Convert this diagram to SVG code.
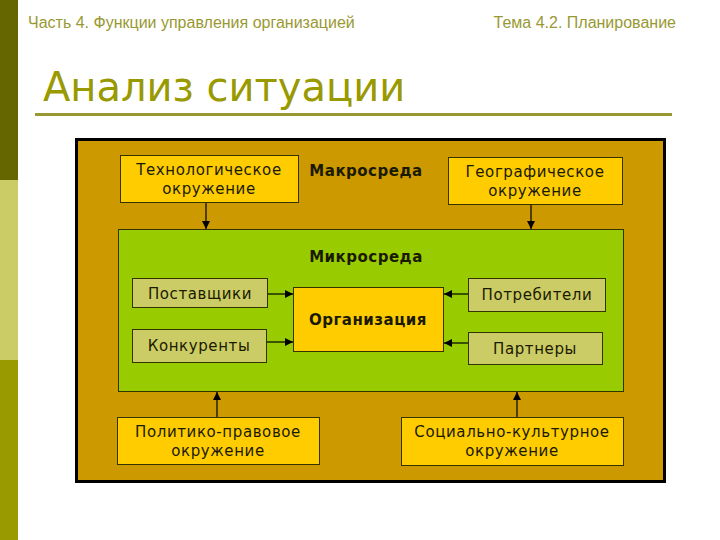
<svg xmlns="http://www.w3.org/2000/svg" width="720" height="540" viewBox="0 0 720 540">
<style>
.box{stroke:#333300;stroke-width:1}
.env{fill:#ffcc00}
.act{fill:#cccc66}
.t{font-family:"DejaVu Sans",Verdana,sans-serif;font-size:15px;fill:#1a1a00;text-anchor:middle;letter-spacing:0.6px}
.b{font-family:"DejaVu Sans",Verdana,sans-serif;font-size:15px;font-weight:bold;fill:#1a1a00;text-anchor:middle;letter-spacing:0.5px}
.hdr{font-family:"Liberation Sans",Arial,sans-serif;font-size:16px;fill:#999933}
.con{stroke:#000;stroke-width:1.2;fill:none;marker-end:url(#ah)}
</style>
<defs>
<marker id="ah" viewBox="0 0 10 10" refX="10" refY="5" markerWidth="8" markerHeight="8" markerUnits="userSpaceOnUse" orient="auto">
<path d="M0,0 L10,5 L0,10 z" fill="#000"/>
</marker>
</defs>
<rect width="720" height="540" fill="#fff"/>
<g id="sidebar">
<rect x="0" y="0" width="18" height="180" fill="#666600"/>
<rect x="0" y="180" width="18" height="180" fill="#cccc66"/>
<rect x="0" y="360" width="18" height="180" fill="#999900"/>
</g>
<g id="header">
<text class="hdr" x="28" y="28">Часть 4. Функции управления организацией</text>
<text class="hdr" x="676" y="28" text-anchor="end">Тема 4.2. Планирование</text>
<text x="43" y="101" font-family="'DejaVu Sans',Verdana,sans-serif" font-size="40" fill="#999900">Анализ ситуации</text>
<rect x="35" y="113" width="637" height="3" fill="#999933"/>
</g>
<g id="macro">
<rect x="76.5" y="139.5" width="588" height="342" fill="#cc9900" stroke="#000" stroke-width="3"/>
<text class="b" x="366" y="176">Макросреда</text>
</g>
<g id="micro">
<rect x="118.5" y="229.5" width="505" height="162" fill="#99cc00" stroke="#333300" stroke-width="1"/>
<text class="b" x="366" y="262">Микросреда</text>
</g>
<g id="tech">
<rect class="box env" x="120.5" y="155.5" width="178" height="47"/>
<text class="t" x="209" y="175">Технологическое</text>
<text class="t" x="209" y="194">окружение</text>
</g>
<g id="geo">
<rect class="box env" x="448.5" y="157.5" width="174" height="47"/>
<text class="t" x="535" y="177">Географическое</text>
<text class="t" x="535" y="196">окружение</text>
</g>
<g id="suppliers">
<rect class="box act" x="132.5" y="278.5" width="135" height="29"/>
<text class="t" x="200" y="299">Поставщики</text>
</g>
<g id="competitors">
<rect class="box act" x="132.5" y="329.5" width="134" height="33"/>
<text class="t" x="199" y="351">Конкуренты</text>
</g>
<g id="org">
<rect class="box env" x="293.5" y="287.5" width="150" height="64"/>
<text class="b" x="368" y="325">Организация</text>
</g>
<g id="consumers">
<rect class="box act" x="468.5" y="278.5" width="137" height="33"/>
<text class="t" x="537" y="300">Потребители</text>
</g>
<g id="partners">
<rect class="box act" x="468.5" y="332.5" width="134" height="32"/>
<text class="t" x="535" y="354">Партнеры</text>
</g>
<g id="political">
<rect class="box env" x="117.5" y="417.5" width="202" height="47"/>
<text class="t" x="218" y="437">Политико-правовое</text>
<text class="t" x="218" y="456">окружение</text>
</g>
<g id="social">
<rect class="box env" x="401.5" y="417.5" width="222" height="48"/>
<text class="t" x="512" y="437">Социально-культурное</text>
<text class="t" x="512" y="456">окружение</text>
</g>
<g id="connectors">
<path class="con" d="M206,203 V229"/>
<path class="con" d="M531,205 V229"/>
<path class="con" d="M268,294 H293"/>
<path class="con" d="M267,342 H293"/>
<path class="con" d="M468,294 H444"/>
<path class="con" d="M468,343 H444"/>
<path class="con" d="M217,417 V392"/>
<path class="con" d="M517,417 V392"/>
</g>
</svg>
